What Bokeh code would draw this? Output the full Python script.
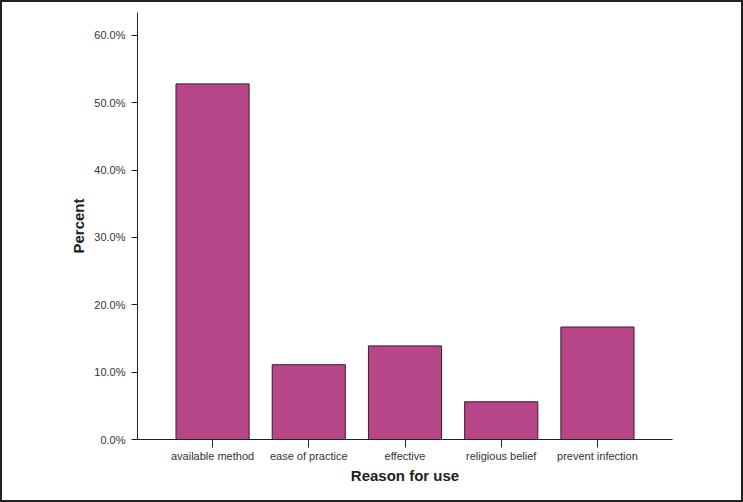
from bokeh.plotting import figure
from bokeh.models import Range1d, FixedTicker, ColumnDataSource
from bokeh.embed import file_html
from bokeh.resources import INLINE

categories = ["available method", "ease of practice", "effective", "religious belief", "prevent infection"]
percents = [52.8, 11.1, 13.9, 5.6, 16.7]
y_ticks = [0, 10, 20, 30, 40, 50, 60]
y_tick_labels = ["0.0%", "10.0%", "20.0%", "30.0%", "40.0%", "50.0%", "60.0%"]

xs = list(range(1, len(categories) + 1))
src = ColumnDataSource(dict(x=xs, top=percents))

p = figure(width=743, height=502, output_backend="svg", toolbar_location=None,
           x_range=Range1d(0.22, len(categories) + 0.78), y_range=Range1d(0, 63.4),
           min_border_left=135, min_border_right=73, min_border_top=10, min_border_bottom=65,
           x_axis_label="Reason for use", y_axis_label="Percent")
p.styles = {"border": "2px solid #222", "box-sizing": "border-box"}

p.vbar(x="x", top="top", width=0.76, bottom=0, source=src,
       fill_color="#b8478a", line_color="#3a1830", line_width=1)

p.grid.visible = False
p.outline_line_color = None
p.background_fill_color = "white"
p.border_fill_color = "white"

p.xaxis.ticker = FixedTicker(ticks=xs)
p.xaxis.major_label_overrides = {x: c for x, c in zip(xs, categories)}
p.yaxis.ticker = FixedTicker(ticks=y_ticks)
p.yaxis.major_label_overrides = {t: l for t, l in zip(y_ticks, y_tick_labels)}

for ax in (p.xaxis, p.yaxis):
    ax.axis_line_color = "#222222"
    ax.major_tick_line_color = "#222222"
    ax.minor_tick_line_color = None
    ax.major_tick_in = 0
    ax.major_label_text_font = "Liberation Sans"
    ax.major_label_text_font_size = "11px"
    ax.major_label_text_color = "#333333"
    ax.axis_label_text_font = "Liberation Sans"
    ax.axis_label_text_font_size = "15px"
    ax.axis_label_text_font_style = "bold"
    ax.axis_label_text_color = "#222222"

p.yaxis.major_tick_out = 6
p.xaxis.major_tick_out = 8
p.xaxis.major_label_standoff = 2
p.yaxis.major_label_standoff = 6
p.yaxis.axis_label_standoff = 4
p.xaxis.axis_label_standoff = 2

open("out.html", "w").write(file_html(p, INLINE))
